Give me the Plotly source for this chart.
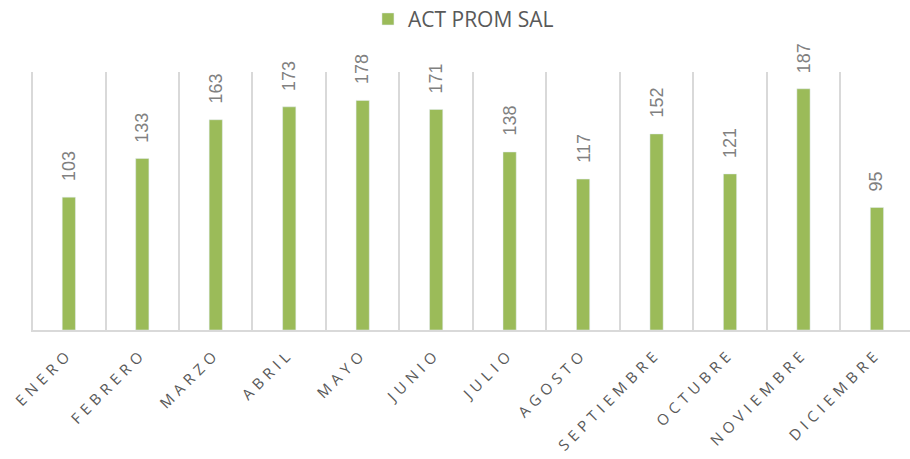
import plotly.graph_objects as go

months = ["ENERO", "FEBRERO", "MARZO", "ABRIL", "MAYO", "JUNIO", "JULIO",
          "AGOSTO", "SEPTIEMBRE", "OCTUBRE", "NOVIEMBRE", "DICIEMBRE"]
values = [103, 133, 163, 173, 178, 171, 138, 117, 152, 121, 187, 95]
series_name = "ACT PROM SAL"

fig = go.Figure()
fig.add_trace(go.Bar(
    x=months, y=values, name=series_name,
    marker=dict(color="#9BBB59"),
    width=0.18,
    cliponaxis=False,
))

for m, v in zip(months, values):
    fig.add_annotation(
        x=m, y=v, text=str(v), textangle=-90, showarrow=False,
        xanchor="center", yanchor="bottom", yshift=14,
        font=dict(color="#808080", size=18, family="Liberation Sans"),
    )

fig.update_layout(
    width=910, height=459,
    margin=dict(l=31, r=0, t=72, b=129, autoexpand=False),
    plot_bgcolor="white", paper_bgcolor="white",
    showlegend=True,
    legend=dict(orientation="h", x=0.492, xanchor="center", y=0.958, yanchor="middle",
                yref="container", itemwidth=30,
                font=dict(size=21, color="#595959", family="Open Sans")),
    xaxis=dict(
        type="category", range=[-0.515, 11.45], automargin=False,
        tickson="boundaries", showgrid=True, gridcolor="#D9D9D9", gridwidth=1.5,
        ticks="", tickangle=-45, ticklabelstandoff=7,
        tickfont=dict(size=15, color="#595959", family="Open Sans"),
        showline=True, linecolor="#D9D9D9", linewidth=2,
    ),
    yaxis=dict(range=[0, 200], visible=False, showgrid=False, zeroline=False,
               automargin=False),
)

post = """
document.body.style.margin = '0';
document.querySelectorAll('.xtick text').forEach(function(t){
  t.style.letterSpacing = '5px';
});
"""
fig.write_html("out.html", post_script=post, config={"displayModeBar": False})
